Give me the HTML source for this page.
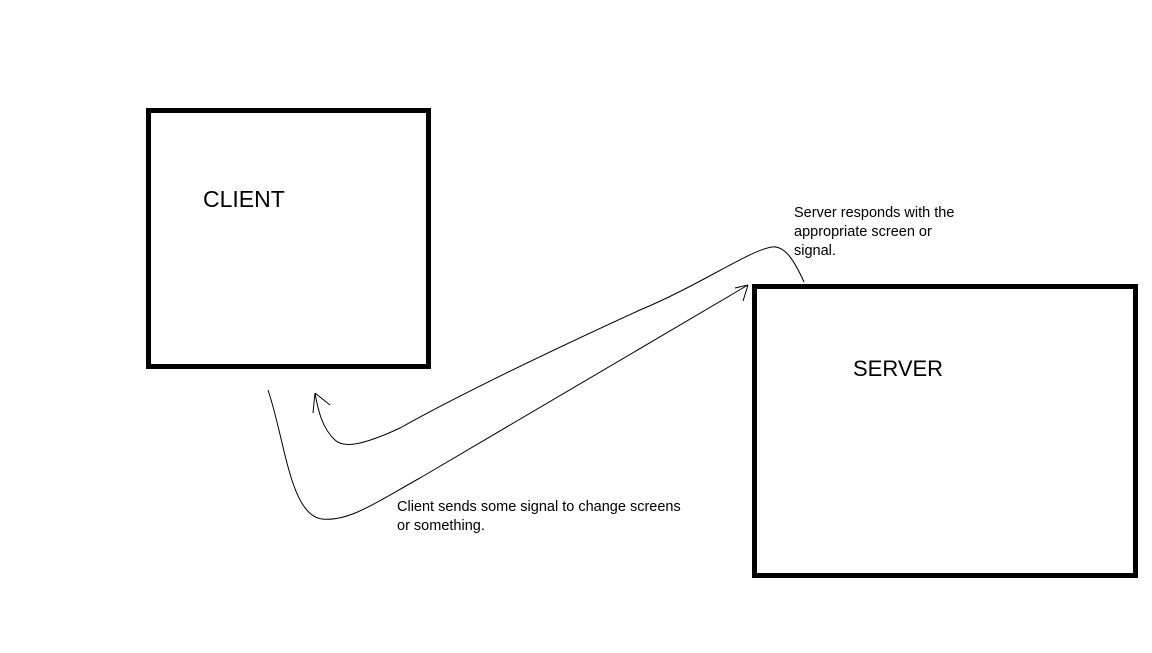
<!DOCTYPE html>
<html><head><meta charset="utf-8"><style>
html,body{margin:0;padding:0;background:#fff;}
</style></head><body>
<svg width="1152" height="648" viewBox="0 0 1152 648" xmlns="http://www.w3.org/2000/svg">
<rect x="0" y="0" width="1152" height="648" fill="#fff"/>
<rect x="148.5" y="110.5" width="280" height="256" fill="none" stroke="#000" stroke-width="5"/>
<rect x="754.5" y="286.5" width="381" height="289" fill="none" stroke="#000" stroke-width="5"/>
<g font-family="Liberation Sans, sans-serif" fill="#000">
<text x="203" y="207" font-size="23">CLIENT</text>
<text x="853" y="376" font-size="22">SERVER</text>
<g font-size="14.5">
<text x="794" y="217">Server responds with the</text>
<text x="794" y="236">appropriate screen or</text>
<text x="794" y="255">signal.</text>
<text x="397" y="511">Client sends some signal to change screens</text>
<text x="397" y="530">or something.</text>
</g>
</g>
<g fill="none" stroke="#000" stroke-width="1">
<path d="M268,390 C285,440 290,515 322,519 C350,522 380,500 420,478 L748,285"/>
<path d="M748,285 L735,288 M748,285 L743,301"/>
<path d="M804,282 C795,262 785,245 772,247 C750,250 700,285 640,310 C520,365 450,400 400,428 C370,442 345,450 335,440 C322,428 318,410 315,393"/>
<path d="M315,393 L313,413 M315,393 L330,405"/>
</g>
</svg>
</body></html>
